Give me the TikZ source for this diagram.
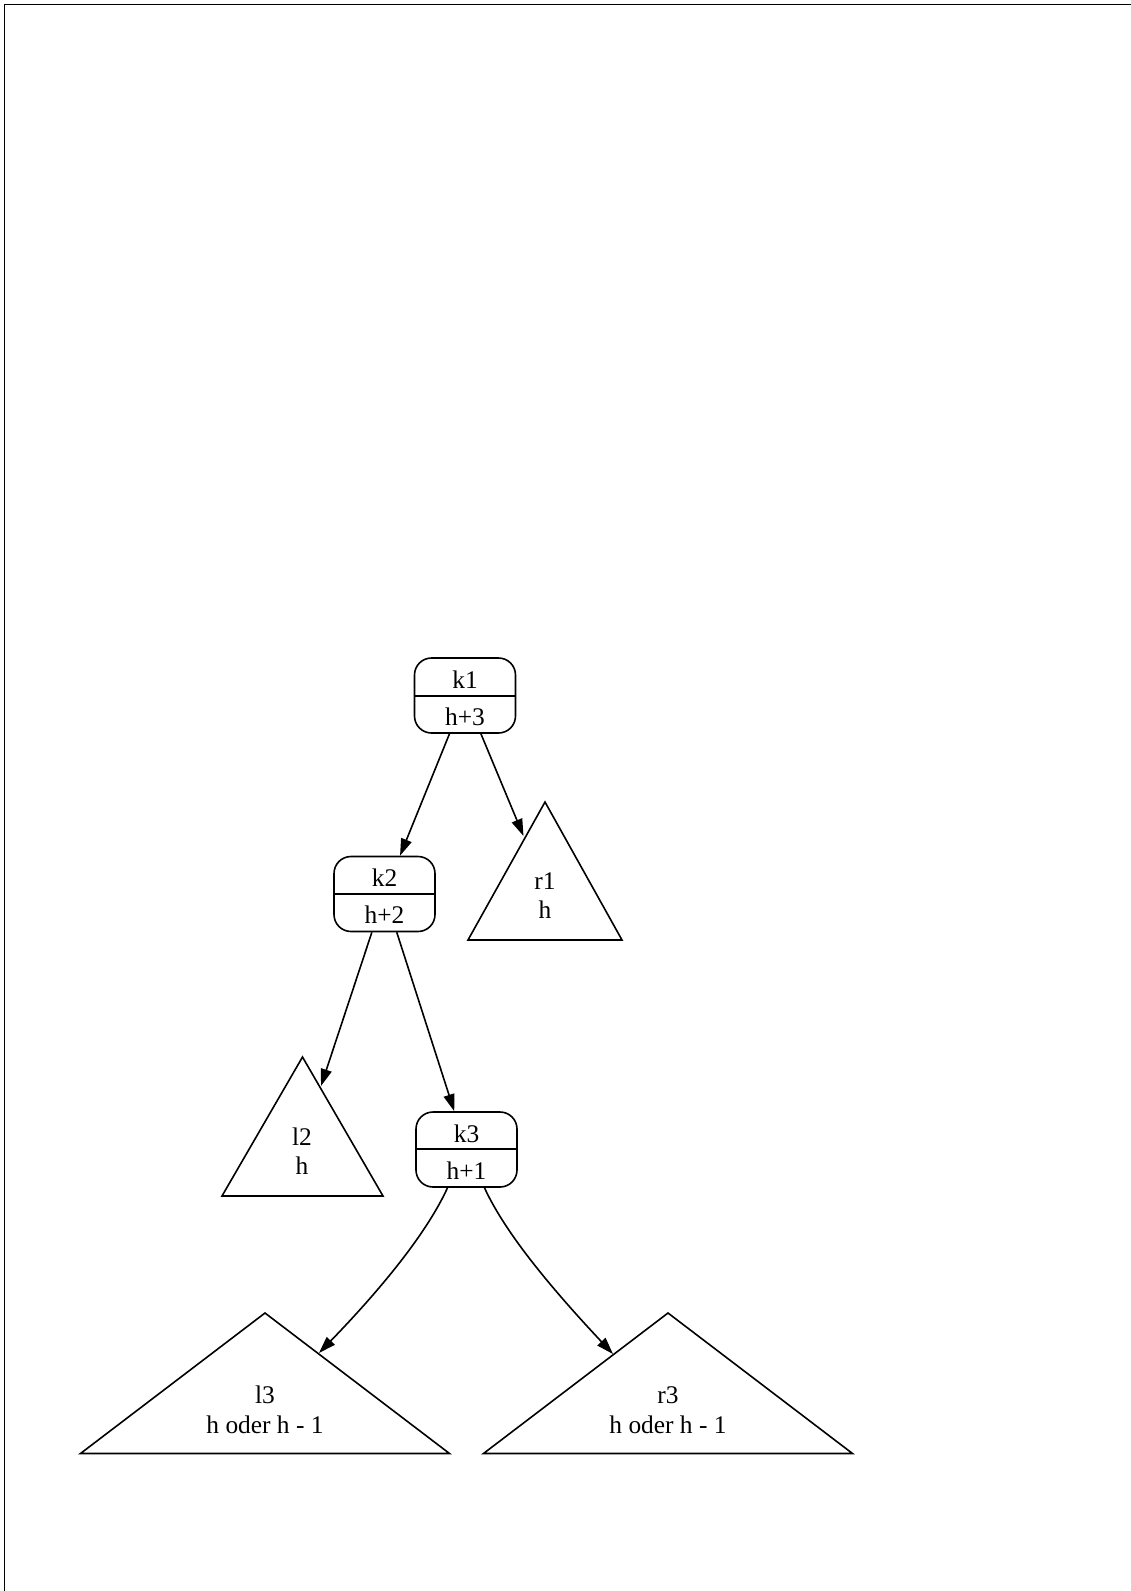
\documentclass[tikz,border=0pt]{standalone}
\usepackage{fontspec}
\setmainfont{Liberation Serif}
\usetikzlibrary{arrows.meta,calc}
\begin{document}
\begin{tikzpicture}[x=1pt,y=-1pt,
  keybox/.style={draw, line width=1.6pt, rounded corners=17pt, minimum width=101pt, minimum height=75pt, inner sep=0pt},
  lbl/.style={anchor=base, inner sep=0pt, font=\fontsize{25.4}{30}\selectfont},
  tri/.style={draw, line width=1.6pt, line join=miter},
  divider/.style={draw, line width=1.6pt},
  edge/.style={draw, line width=1.6pt, -{Triangle[length=17pt,width=11pt]}}]
\useasboundingbox (0,0) rectangle (1131,1591);
\draw[line width=1.6pt] (1131,4.5) -- (4.5,4.5) -- (4.5,1591);

% key boxes
\node[keybox] (k1) at (465,695.5) {};
\draw[divider] ($(k1.north west)+(0,39)$) -- ($(k1.north east)+(0,39)$);
\node[lbl] (k1t) at ($(k1.north)+(0,31)$) {k1};
\node[lbl] (k1b) at ($(k1.north)+(0,68)$) {h+3};

\node[keybox] (k2) at (384.5,894) {};
\draw[divider] ($(k2.north west)+(0,38.5)$) -- ($(k2.north east)+(0,38.5)$);
\node[lbl] (k2t) at ($(k2.north)+(0,31)$) {k2};
\node[lbl] (k2b) at ($(k2.north)+(0,68)$) {h+2};

\node[keybox] (k3) at (466.5,1149.5) {};
\draw[divider] ($(k3.north west)+(0,38)$) -- ($(k3.north east)+(0,38)$);
\node[lbl] (k3t) at ($(k3.north)+(0,31)$) {k3};
\node[lbl] (k3b) at ($(k3.north)+(0,68)$) {h+1};

% subtrees
\draw[tri] (545,802) -- (622,940) -- (468,940) -- cycle;
\node[lbl] (r1t) at (545,889) {r1};
\node[lbl] (r1b) at (545,918) {h};
\coordinate (r1tip) at (523.5,836);

\draw[tri] (302.5,1057) -- (383,1196) -- (222,1196) -- cycle;
\node[lbl] (l2t) at (302,1145) {l2};
\node[lbl] (l2b) at (302,1174) {h};
\coordinate (l2tip) at (321,1086);

\draw[tri] (265,1313) -- (449.5,1453.5) -- (80.5,1453.5) -- cycle;
\node[lbl] (l3t) at (265,1403) {l3};
\node[lbl] (l3b) at (265,1433) {h oder h - 1};
\coordinate (l3tip) at (319,1353);

\draw[tri] (668,1313) -- (852.5,1453.5) -- (483.5,1453.5) -- cycle;
\node[lbl] (r3t) at (668,1403) {r3};
\node[lbl] (r3b) at (668,1433) {h oder h - 1};
\coordinate (r3tip) at (613,1354);

% connectors
\draw[edge] (k1) -- (k2);
\draw[edge] (k1) -- (r1tip);
\draw[edge] (k2) -- (l2tip);
\draw[edge] (k2) -- (k3);
\draw[edge] ($(k3.south)+(-19,0)$) .. controls ($(k3.south)+(-40,46)$) and (380,1290) .. (l3tip);
\draw[edge] ($(k3.south)+(18,0)$) .. controls ($(k3.south)+(39,46)$) and (553,1290) .. (r3tip);
\end{tikzpicture}
\end{document}
